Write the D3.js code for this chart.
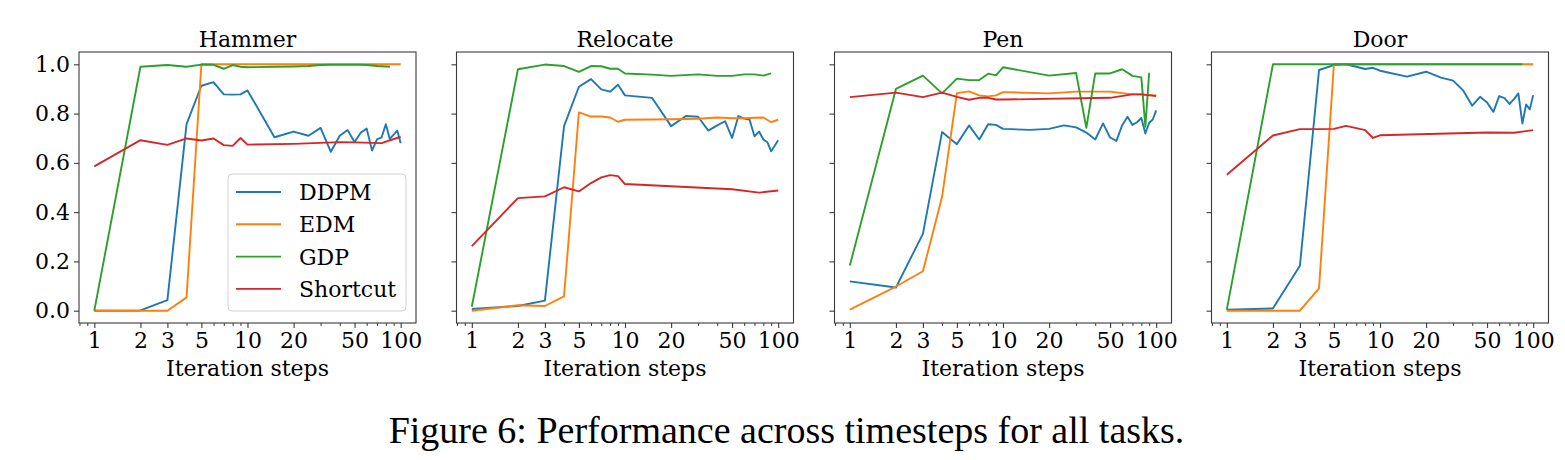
<!DOCTYPE html>
<html><head><meta charset="utf-8">
<script src="https://cdn.jsdelivr.net/npm/d3@7"></script>
<style>
html,body{margin:0;padding:0;background:#fff;}
svg text{font-family:"DejaVu Serif",serif;fill:#000;}
</style></head>
<body>
<svg id="chart" width="1565" height="460"></svg>
<script>
const steps = [1,2,3,4,5,6,7,8,9,10,15,20,25,30,35,40,45,50,55,60,65,70,75,80,85,90,95,100];
const seriesNames = ["DDPM","EDM","GDP","Shortcut"];
const seriesColors = ["#1f77b4","#ff7f0e","#2ca02c","#d62728"];
const taskNames = ["Hammer","Relocate","Pen","Door"];
const xTickValues = [1,2,3,5,10,20,50,100];
const yTickValues = [0,0.2,0.4,0.6,0.8,1.0];
const N = null;

const hammerDDPM = [0.0,0.001,0.043,0.757,0.913,0.928,0.878,0.877,0.878,0.894,0.704,0.727,0.710,0.742,0.645,0.710,0.733,0.685,0.723,0.739,0.650,0.695,0.703,0.757,0.697,N,0.731,0.680];
const hammerEDM = [0,0,0,0.054,1,1,1,1,1,1,1,1,1,1,1,1,1,1,1,1,1,1,1,1,1,1,1,1];
const hammerGDP = [0,0.990,0.997,0.990,0.999,0.998,0.982,0.997,0.990,0.988,0.990,0.991,0.993,0.997,0.998,0.998,0.998,0.998,0.998,0.997,0.995,0.993,0.992,0.991,0.990,N,N,N];
const hammerShortcut = [0.586,0.692,0.673,0.699,0.691,0.699,0.672,0.669,0.701,0.674,N,0.677,N,N,N,0.684,N,0.683,N,N,N,N,0.680,N,N,N,N,0.706];

const relocateDDPM = [0.007,0.019,0.041,0.749,0.909,0.940,0.898,0.889,0.917,0.874,0.864,0.749,0.790,0.787,0.731,0.752,0.769,0.701,0.790,0.780,0.776,0.708,0.727,0.695,0.684,0.647,N,0.692];
const relocateEDM = [0.0,0.022,0.019,0.058,0.805,0.788,0.788,0.784,0.767,0.775,0.776,0.777,0.778,0.779,N,0.784,N,0.781,N,0.781,N,0.783,N,0.784,N,0.765,N,0.775];
const relocateGDP = [0.016,0.980,0.999,0.993,0.969,0.993,0.992,0.982,0.982,0.963,0.958,0.953,N,0.959,N,0.953,N,0.953,N,0.959,N,0.959,N,0.954,N,0.963,N,N];
const relocateShortcut = [0.262,0.457,0.464,0.501,0.484,0.518,0.541,0.550,0.546,0.514,N,N,N,N,N,N,N,0.493,N,N,N,N,0.479,N,N,N,N,0.488];

const penDDPM = [0.119,0.094,0.312,0.725,0.676,0.752,0.695,0.757,0.754,0.738,0.734,0.738,0.752,0.744,0.723,0.695,0.760,0.703,0.689,0.753,0.787,0.754,0.765,0.782,0.719,0.763,0.776,0.813];
const penEDM = [0.004,0.098,0.160,0.461,0.883,0.890,0.874,0.870,0.874,0.887,N,0.882,N,0.889,N,N,N,0.889,N,N,N,0.878,N,0.878,N,N,N,0.874];
const penGDP = [0.183,0.900,0.954,0.882,0.942,0.936,0.936,0.962,0.955,0.988,N,0.954,N,0.965,0.742,0.963,N,0.963,N,0.980,N,0.953,N,0.947,0.746,0.966,N,N];
const penShortcut = [0.867,0.885,0.867,0.885,0.868,0.856,0.864,0.864,0.857,0.857,N,N,N,N,N,N,N,0.864,N,N,N,0.878,N,0.878,N,N,N,0.871];

const doorDDPM = [0.004,0.009,0.182,0.977,0.997,1.0,0.990,0.981,0.986,0.974,0.950,0.970,0.946,0.934,0.893,0.832,0.868,0.845,0.807,0.871,0.863,0.839,0.859,0.882,0.760,0.837,0.817,0.875];
const doorEDM = [0,0,0,0.091,1,1,1,1,1,1,1,1,1,1,1,1,1,1,1,1,1,1,1,1,1,1,1,1];
const doorGDP = [0.004,1,1,1,1,1,1,1,1,1,1,1,1,1,1,1,1,1,1,1,1,1,1,1,1,N,N,N];
const doorShortcut = [0.552,0.711,0.737,0.737,0.738,0.750,0.741,0.733,0.701,0.712,N,N,N,N,N,N,N,0.723,N,N,N,N,0.722,N,N,N,N,0.733];

const panels = [
  [hammerDDPM, hammerEDM, hammerGDP, hammerShortcut],
  [relocateDDPM, relocateEDM, relocateGDP, relocateShortcut],
  [penDDPM, penEDM, penGDP, penShortcut],
  [doorDDPM, doorEDM, doorGDP, doorShortcut]
];

const svg = d3.select("#chart");
const PW = 337, PTOP = 52, PBOT = 323;
const lefts = [79, 456.5, 834.5, 1211.5];
const lmin = -0.1, lmax = 2.1;
const minorTicks = [0.8,0.9,4,6,7,8,9,30,40,60,70,80,90];

panels.forEach((pdata, pi) => {
  const L = lefts[pi];
  const x = d3.scaleLog().domain([Math.pow(10,lmin), Math.pow(10,lmax)]).range([L, L+PW]);
  const y = d3.scaleLinear().domain([-0.05,1.05]).range([PBOT, PTOP]);
  const g = svg.append("g");

  pdata.forEach((vals, si) => {
    const pts = steps.map((s,i)=>[s, vals[i]]).filter(d => d[1] !== null);
    g.append("path").datum(pts)
      .attr("fill","none").attr("stroke", seriesColors[si]).attr("stroke-width",1.9)
      .attr("stroke-linejoin","round")
      .attr("d", d3.line().x(d=>x(d[0])).y(d=>y(d[1])));
  });

  g.append("rect").attr("x",L).attr("y",PTOP).attr("width",PW).attr("height",PBOT-PTOP)
    .attr("fill","none").attr("stroke","#3a3a3a").attr("stroke-width",1.1);

  const xa = d3.axisBottom(x).tickValues(xTickValues).tickFormat(d3.format("d")).tickSize(5).tickPadding(4);
  const xg = g.append("g").attr("transform",`translate(0,${PBOT})`).call(xa);
  xg.select(".domain").remove();
  xg.selectAll("line").attr("stroke","#3a3a3a").attr("stroke-width",1.1);
  xg.selectAll("text").attr("font-size",22).attr("font-family","DejaVu Serif").attr("fill","#000");
  const xm = d3.axisBottom(x).tickValues(minorTicks).tickFormat("").tickSize(3);
  const xmg = g.append("g").attr("transform",`translate(0,${PBOT})`).call(xm);
  xmg.select(".domain").remove();
  xmg.selectAll("line").attr("stroke","#3a3a3a").attr("stroke-width",1);

  const ya = d3.axisLeft(y).tickValues(yTickValues).tickSize(5).tickPadding(4)
    .tickFormat(pi===0 ? d3.format(".1f") : "");
  const yg = g.append("g").attr("transform",`translate(${L},0)`).call(ya);
  yg.select(".domain").remove();
  yg.selectAll("line").attr("stroke","#3a3a3a").attr("stroke-width",1.1);
  yg.selectAll("text").attr("font-size",22).attr("font-family","DejaVu Serif").attr("fill","#000");

  g.append("text").attr("x",L+PW/2).attr("y",46.5).attr("text-anchor","middle")
    .attr("font-size",22).text(taskNames[pi]);
  g.append("text").attr("x",L+PW/2).attr("y",375.5).attr("text-anchor","middle")
    .attr("font-size",22).text("Iteration steps");

  if (pi === 0) {
    const lg = g.append("g");
    lg.append("rect").attr("x",228).attr("y",174).attr("width",178).attr("height",137)
      .attr("rx",4).attr("fill","#fff").attr("fill-opacity",0.8)
      .attr("stroke","#d0d0d0").attr("stroke-width",1);
    seriesNames.forEach((nm, si) => {
      const yy = 192 + si*32.3;
      lg.append("line").attr("x1",236).attr("x2",281).attr("y1",yy).attr("y2",yy)
        .attr("stroke",seriesColors[si]).attr("stroke-width",1.9);
      lg.append("text").attr("x",299).attr("y",yy+8).attr("font-size",22).text(nm);
    });
  }
});

svg.append("text").attr("x",786.5).attr("y",443).attr("text-anchor","middle")
  .style("font-family","'Liberation Serif','Times New Roman',serif").attr("font-size",38)
  .text("Figure 6: Performance across timesteps for all tasks.");
</script>
</body></html>
